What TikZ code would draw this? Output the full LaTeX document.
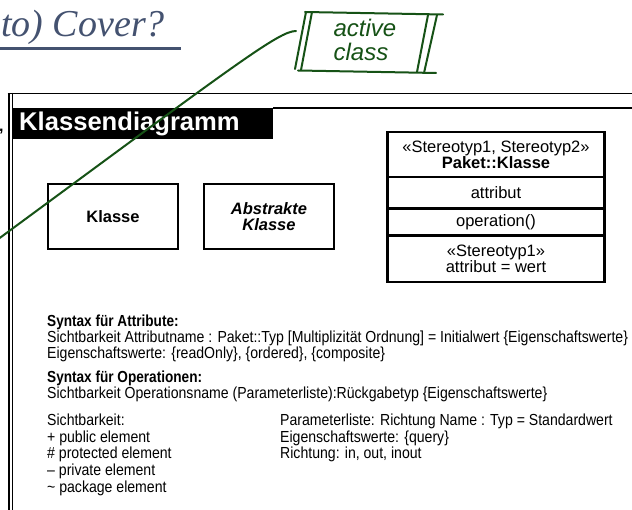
\documentclass[tikz,border=0pt]{standalone}
\usepackage{fontspec}
\setmainfont{Liberation Sans}
\newfontfamily\narrowfont[FakeStretch=0.88]{Liberation Sans}
\newfontfamily\narrowboldfont[FakeStretch=0.85]{Liberation Sans Bold}
\newfontfamily\titlefont{Liberation Serif}
\newfontfamily\handfont{Liberation Sans}
\definecolor{titleblue}{RGB}{68,82,112}
\definecolor{handgreen}{RGB}{22,82,22}
\tikzset{
  frameline/.style={line width=1.5pt, black},
  classbox/.style={draw, line width=2pt, minimum width=130pt, minimum height=65pt, inner sep=0pt, align=center, font=\fontsize{16.5}{17}\selectfont\bfseries},
  comp/.style={draw, line width=1.2pt, minimum width=216pt, inner sep=0pt, align=center, anchor=north, font=\fontsize{16.5}{16.5}\selectfont},
  lowtext/.style={anchor=base west, inner sep=0pt, font=\narrowfont\fontsize{16}{16}\selectfont},
  lowbold/.style={anchor=base west, inner sep=0pt, font=\narrowboldfont\fontsize{16}{16}\selectfont},
  handline/.style={draw=handgreen, line width=2pt, line cap=round, line join=round},
  handtext/.style={inner sep=0pt, anchor=base, text=handgreen, font=\handfont\itshape\fontsize{24}{24}\selectfont},
}
\begin{document}
\begin{tikzpicture}[x=1pt,y=-1pt]
\useasboundingbox (0,0) rectangle (632,510);
\fill[white] (0,0) rectangle (632,510);

% title
\node[anchor=base east, inner sep=0pt, text=titleblue, font=\titlefont\itshape\fontsize{38}{38}\selectfont] (title) at (165,37) {to) Cover?};
\draw[titleblue, line width=3pt] (-1,49) -- (181,49);
\node[anchor=base west, inner sep=0pt, font=\bfseries\fontsize{16}{16}\selectfont] (comma) at (-1,132) {,};

% slide frame
\draw[line width=2.2pt] (8.6,92.8) -- (8.6,512);
\draw[line width=1.3pt] (12.3,93) -- (12.3,512);
\draw[frameline] (7.5,93.5) -- (633,93.5);
\draw[frameline] (273,108) -- (633,108);

% title bar
\node[fill=black, minimum width=260pt, minimum height=31pt, inner sep=0pt, anchor=north west] (bar) at (13,108) {};
\node[anchor=base west, inner sep=0pt, text=white, font=\bfseries\fontsize{25.6}{26}\selectfont] (bartext) at (19,130.5) {Klassendiagramm};

% boxes
\node[classbox] (klasse) at (113,216.5) {Klasse};
\node[classbox, font=\fontsize{16.5}{17}\selectfont\bfseries\itshape] (abstrakt) at (269,216.5) {Abstrakte\\[-1pt]Klasse};

% UML class
\node[comp, minimum height=44pt] (c1) at (496,132) {«Stereotyp1, Stereotyp2»\\\textbf{Paket::Klasse}};
\node[comp, minimum height=30pt] (c2) at (c1.south) {attribut};
\node[comp, minimum height=26pt] (c3) at (c2.south) {operation()};
\node[comp, minimum height=45pt] (c4) at (c3.south) {«Stereotyp1»\\attribut = wert};
\draw[line width=2pt] (c1.north west) rectangle (c4.south east);

% lower texts
\node[lowbold] (sa) at (47,326.5) {Syntax für Attribute:};
\node[lowtext] (sa1) at (47,343) {Sichtbarkeit Attributname : Paket::Typ [Multiplizität Ordnung] = Initialwert \{Eigenschaftswerte\}};
\node[lowtext] (sa2) at (47,359) {Eigenschaftswerte: \{readOnly\}, \{ordered\}, \{composite\}};
\node[lowbold] (so) at (47,383) {Syntax für Operationen:};
\node[lowtext] (so1) at (47,399) {Sichtbarkeit Operationsname (Parameterliste):Rückgabetyp \{Eigenschaftswerte\}};
\node[lowtext] (v0) at (47,426) {Sichtbarkeit:};
\node[lowtext] (v1) at (47,442.5) {+ public element};
\node[lowtext] (v2) at (47,459) {\# protected element};
\node[lowtext] (v3) at (47,475.5) {– private element};
\node[lowtext] (v4) at (47,492) {\textasciitilde\ package element};
\node[lowtext] (p0) at (280,426) {Parameterliste: Richtung Name : Typ = Standardwert};
\node[lowtext] (p1) at (280,442.5) {Eigenschaftswerte: \{query\}};
\node[lowtext] (p2) at (280,459) {Richtung: in, out, inout};

% active class note (hand drawn)
\node[handtext] (active) at (365,37) {active};
\node[handtext] (class) at (361,61) {class};
\draw[handline] (305,12) -- (443,14.5);
\draw[handline] (298,70.5) -- (436,73);
\draw[handline] (295,69) -- (306,12);
\draw[handline] (301,70) -- (312,12);
\draw[handline] (417,72) -- (428,15);
\draw[handline] (424,73) -- (437,15);
\coordinate (gstart) at (296,31);
\coordinate (gend) at (-3,240);
\draw[handline] (gstart) .. controls (279,31) and (236,64) .. (gend);
\end{tikzpicture}
\end{document}
